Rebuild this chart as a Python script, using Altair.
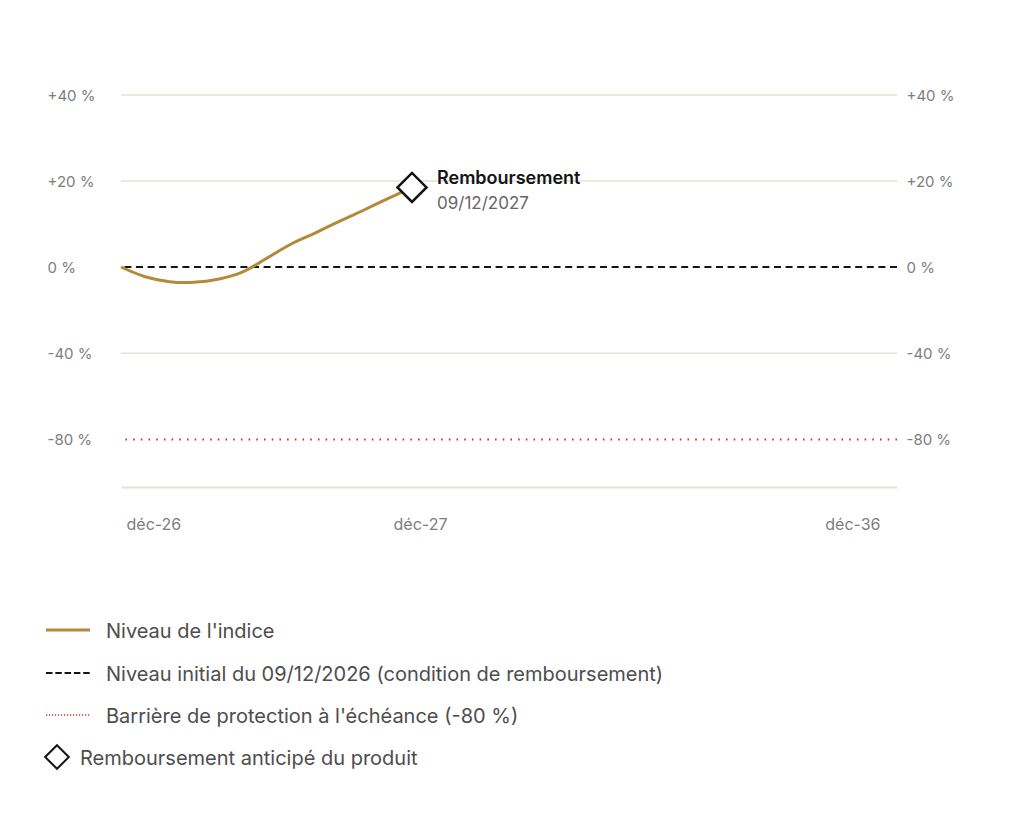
import altair as alt
import pandas as pd

# ---------------- data ----------------
months = [0, 1, 2, 3, 4, 5, 6, 7, 8, 9, 10, 11, 12]          # months after 09/12/2026
index_level = [0.0, -4.5, -6.8, -7.1, -5.7, -2.4, 2.0, 5.3, 7.9, 10.6, 13.2, 15.9, 18.5]  # %

redemption_month = [12]
redemption_level = [18.5]
redemption_title = ["Remboursement"]
redemption_date = ["09/12/2027"]

y_tick_values = [40, 20, 0, -40, -80]
grid_values = [40, 20, -40]
initial_level = [0]
barrier_level = [-80]

x_tick_months = [0, 12, 120]
x_tick_labels = ["déc-26", "déc-27", "déc-36"]

legend_labels = [
    "Niveau de l'indice",
    "Niveau initial du 09/12/2026 (condition de remboursement)",
    "Barrière de protection à l'échéance (-80 %)",
    "Remboursement anticipé du produit",
]

# ---------------- style ----------------
GOLD = "#B28A3A"
GRID = "#E4E1D9"
RED = "#C0392B"
INK = "#141414"
LABEL = "#7D7D7D"
LEGEND_TXT = "#4D4D4D"
FONT = "Inter"

W, H = 776, 392
X_SCALE = alt.Scale(domain=[0, 12, 120], range=[0, 291, W], nice=False, zero=False)
Y_SCALE = alt.Scale(domain=[-102, 0, 40], range=[H, 172, 0], nice=False, zero=False)

y_label_expr = "(datum.value > 0 ? '+' : '') + datum.value + ' %'"
x_label_expr = " : ".join(
    f"datum.value == {m} ? '{l}'" for m, l in zip(x_tick_months[:-1], x_tick_labels[:-1])
) + f" : '{x_tick_labels[-1]}'"

x_axis = alt.Axis(
    values=x_tick_months, labelExpr=x_label_expr, title=None, ticks=False, grid=False,
    domainColor=GRID, domainWidth=2, labelPadding=29, labelFontSize=16, labelColor=LABEL,
    labelFont=FONT, labelFlush=False, labelOverlap=False, labelBound=False,
    labelAlign={"expr": "datum.value == 0 ? 'left' : datum.value == 120 ? 'right' : 'center'"},
    labelOffset={"expr": "datum.value == 0 ? 5 : datum.value == 12 ? 8 : -17"},
)

def y_axis(orient, pad):
    return alt.Axis(
        values=y_tick_values, labelExpr=y_label_expr, title=None, orient=orient,
        ticks=False, domain=False, grid=False, labelAlign="left", labelPadding=pad,
        labelFontSize=15, labelColor=LABEL, labelFont=FONT,
    )

# ---------------- layers ----------------
grid = alt.Chart(pd.DataFrame({"v": grid_values})).mark_rule(
    color=GRID, strokeWidth=1.6
).encode(y=alt.Y("v:Q", scale=Y_SCALE, axis=None))

zero = alt.Chart(pd.DataFrame({"v": initial_level})).mark_rule(
    color=INK, strokeDash=[7, 4.6], strokeWidth=1.8
).encode(y=alt.Y("v:Q", scale=Y_SCALE, axis=y_axis("right", 9)))

barrier = alt.Chart(pd.DataFrame({"v": barrier_level})).mark_rule(
    color=RED, strokeDash=[1.6, 6.1], strokeWidth=2
).encode(y=alt.Y("v:Q", scale=Y_SCALE, axis=None))

line_df = pd.DataFrame({"m": months, "v": index_level})
line = alt.Chart(line_df).mark_line(
    color=GOLD, strokeWidth=3, interpolate="catmull-rom"
).encode(
    x=alt.X("m:Q", scale=X_SCALE, axis=x_axis),
    y=alt.Y("v:Q", scale=Y_SCALE, axis=y_axis("left", 74)),
)

red_df = pd.DataFrame({"m": redemption_month, "v": redemption_level,
                       "t": redemption_title, "d": redemption_date})
diamond = alt.Chart(red_df).mark_point(
    shape="diamond", size=841, filled=True, fill="white", stroke=INK, strokeWidth=2.5, opacity=1
).encode(
    x=alt.X("m:Q", scale=X_SCALE),
    y=alt.Y("v:Q", scale=Y_SCALE, axis=None),
)
ann_title = alt.Chart(red_df).mark_text(
    align="left", baseline="middle", dx=25, dy=-8.5, fontSize=18, fontWeight=600,
    color=INK, font=FONT
).encode(x=alt.X("m:Q", scale=X_SCALE), y=alt.Y("v:Q", scale=Y_SCALE, axis=None), text="t:N")
ann_date = alt.Chart(red_df).mark_text(
    align="left", baseline="middle", dx=25, dy=16.5, fontSize=17, color="#666666", font=FONT
).encode(x=alt.X("m:Q", scale=X_SCALE), y=alt.Y("v:Q", scale=Y_SCALE, axis=None), text="d:N")

# ---------------- legend (drawn below the plot) ----------------
ROW_Y = [535, 578, 620, 662]
legend_layers = []
sym_styles = [
    dict(color=GOLD, strokeWidth=3),
    dict(color=INK, strokeWidth=2, strokeDash=[6.5, 2.8]),
    dict(color=RED, strokeWidth=1.5, strokeDash=[1.2, 1.8]),
]
for i, style in enumerate(sym_styles):
    d = pd.DataFrame({"label": [legend_labels[i]]})
    legend_layers.append(
        alt.Chart(d).mark_rule(**style).encode(
            x=alt.value(-75), x2=alt.value(-31), y=alt.value(ROW_Y[i]))
    )
    legend_layers.append(
        alt.Chart(d).mark_text(align="left", baseline="middle", fontSize=20, dy=1.5,
                               color=LEGEND_TXT, font=FONT).encode(
            x=alt.value(-15), y=alt.value(ROW_Y[i]), text="label:N")
    )
d = pd.DataFrame({"label": [legend_labels[3]]})
legend_layers.append(
    alt.Chart(d).mark_point(shape="diamond", size=560, filled=True, fill="white",
                            stroke=INK, strokeWidth=2, opacity=1).encode(
        x=alt.value(-64), y=alt.value(ROW_Y[3]))
)
legend_layers.append(
    alt.Chart(d).mark_text(align="left", baseline="middle", fontSize=20, dy=1.5,
                           color=LEGEND_TXT, font=FONT).encode(
        x=alt.value(-41), y=alt.value(ROW_Y[3]), text="label:N")
)

chart = alt.layer(
    grid, zero, barrier, line, diamond, ann_title, ann_date, *legend_layers
).resolve_scale(y="independent").properties(
    width=W, height=H,
    autosize=alt.AutoSizeParams(type="none"),
    padding={"left": 113, "top": 87, "right": 110, "bottom": 300},
    background="white",
).configure(font=FONT).configure_view(stroke=None)

chart.save("out.html", embed_options={"renderer": "svg", "actions": False})
